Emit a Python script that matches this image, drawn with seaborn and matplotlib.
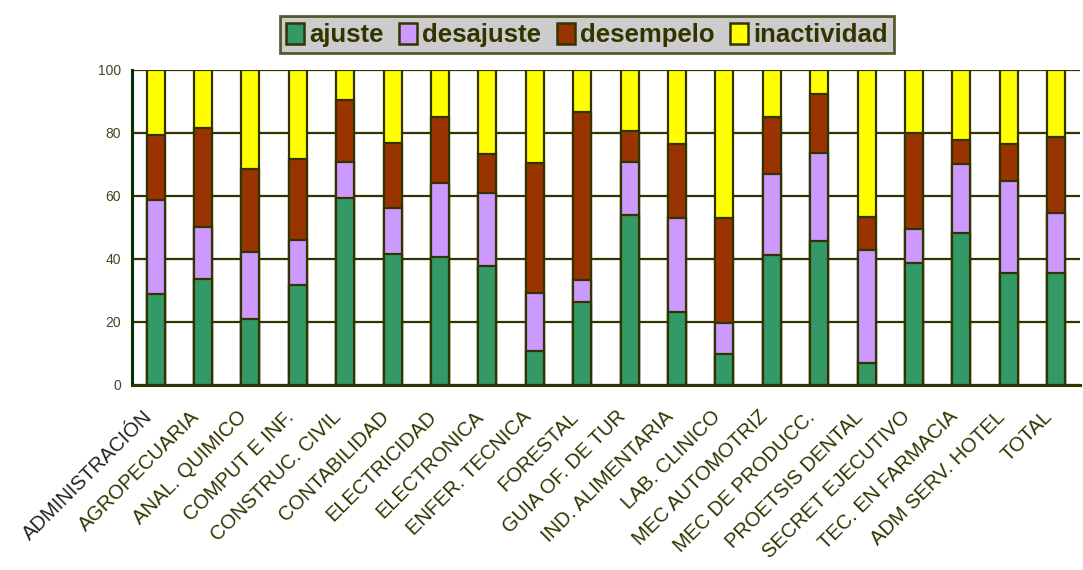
import seaborn as sns
import matplotlib.pyplot as plt
import matplotlib.ticker as mtick
import pandas as pd

# Categories (careers) and the four outcome series, in %
carreras = ["ADMINISTRACIÓN", "AGROPECUARIA", "ANAL. QUIMICO", "COMPUT E INF.",
            "CONSTRUC. CIVIL", "CONTABILIDAD", "ELECTRICIDAD", "ELECTRONICA",
            "ENFER. TECNICA", "FORESTAL", "GUIA OF. DE TUR", "IND. ALIMENTARIA",
            "LAB. CLINICO", "MEC AUTOMOTRIZ", "MEC DE PRODUCC.", "PROETSIS DENTAL",
            "SECRET EJECUTIVO", "TEC. EN FARMACIA", "ADM SERV. HOTEL", "TOTAL"]
ajuste = [28.8, 33.5, 21.1, 31.7, 59.5, 41.5, 40.6, 37.8, 10.8, 26.5,
          53.9, 23.3, 9.7, 41.3, 45.7, 7.1, 38.8, 48.1, 35.4, 35.4]
desajuste = [29.9, 16.8, 21.1, 14.3, 11.4, 14.6, 23.6, 23.2, 18.3, 6.7,
             17.0, 29.6, 10.1, 25.6, 28.1, 35.7, 10.6, 22.2, 29.2, 19.3]
desempelo = [20.7, 31.2, 26.5, 25.9, 19.6, 20.8, 21.0, 12.4, 41.5, 53.6,
             9.7, 23.7, 33.3, 18.2, 18.5, 10.6, 30.5, 7.4, 11.8, 24.0]
inactividad = [100 - a - b - c for a, b, c in zip(ajuste, desajuste, desempelo)]

series = ["ajuste", "desajuste", "desempelo", "inactividad"]
colors = {
    "ajuste": "#339966",
    "desajuste": "#cc99ff",
    "desempelo": "#993300",
    "inactividad": "#ffff00",
}
olive = "#333300"

df = pd.DataFrame({"carrera": carreras, "ajuste": ajuste, "desajuste": desajuste,
                   "desempelo": desempelo, "inactividad": inactividad})
# cumulative tops so the stacked look comes from overlaying bars
cum = df[series].cumsum(axis=1)

sns.set_style("white")
plt.rcParams['font.family'] = ['Liberation Sans', 'DejaVu Sans']

fig = plt.figure(figsize=(10.83, 5.70), dpi=100)
ax = fig.add_axes([0.1219, 0.3246, 0.8751, 0.5526])

for s in reversed(series):
    sns.barplot(x=df["carrera"], y=cum[s], color=colors[s], width=0.38,
                edgecolor=olive, linewidth=1.6, saturation=1, ax=ax, zorder=3)

ax.set_xlim(-0.5, len(carreras) - 0.5)
ax.set_ylim(0, 100)
ax.set_axisbelow(True)
ax.yaxis.set_major_locator(mtick.MultipleLocator(20))
ax.yaxis.grid(True, color=olive, linewidth=1.6)
ax.xaxis.grid(False)

# tick marks sit between the categories, labels under the bars
ax.set_xticks([i - 0.5 for i in range(len(carreras) + 1)], minor=True)
ax.tick_params(axis='x', which='minor', length=5, width=1.6, color=olive, direction='out')
ax.tick_params(axis='x', which='major', length=0, pad=16)
ax.set_xticks(range(len(carreras)))
ax.set_xticklabels(carreras, rotation=45, ha='right', fontsize=14.5, color=olive)
ax.get_xticklabels()[0].set_color("#222222")
ax.tick_params(axis='y', length=5, width=1.6, color=olive, direction='out',
               labelsize=10, labelcolor="#444422", pad=3)

for side in ["top", "right"]:
    ax.spines[side].set_visible(False)
ax.spines["left"].set_color("#003300")
ax.spines["left"].set_linewidth(2.2)
ax.spines["bottom"].set_color(olive)
ax.spines["bottom"].set_linewidth(2.2)
ax.set_xlabel("")
ax.set_ylabel("")

handles = [plt.Rectangle((0, 0), 1, 1, facecolor=colors[s], edgecolor=olive, linewidth=1.8)
           for s in series]
leg = fig.legend(handles, series, loc='center', bbox_to_anchor=(0.542, 0.939), ncol=4,
                 frameon=True, fancybox=False, handlelength=0.7, handleheight=0.9,
                 handletextpad=0.2, columnspacing=0.6, borderpad=0.25,
                 prop={'size': 18.5, 'weight': 'bold'})
leg.get_frame().set_facecolor("#c0c0c0")
leg.get_frame().set_edgecolor(olive)
leg.get_frame().set_linewidth(2)
for t in leg.get_texts():
    t.set_color(olive)

fig.savefig("out.png", dpi=100)
